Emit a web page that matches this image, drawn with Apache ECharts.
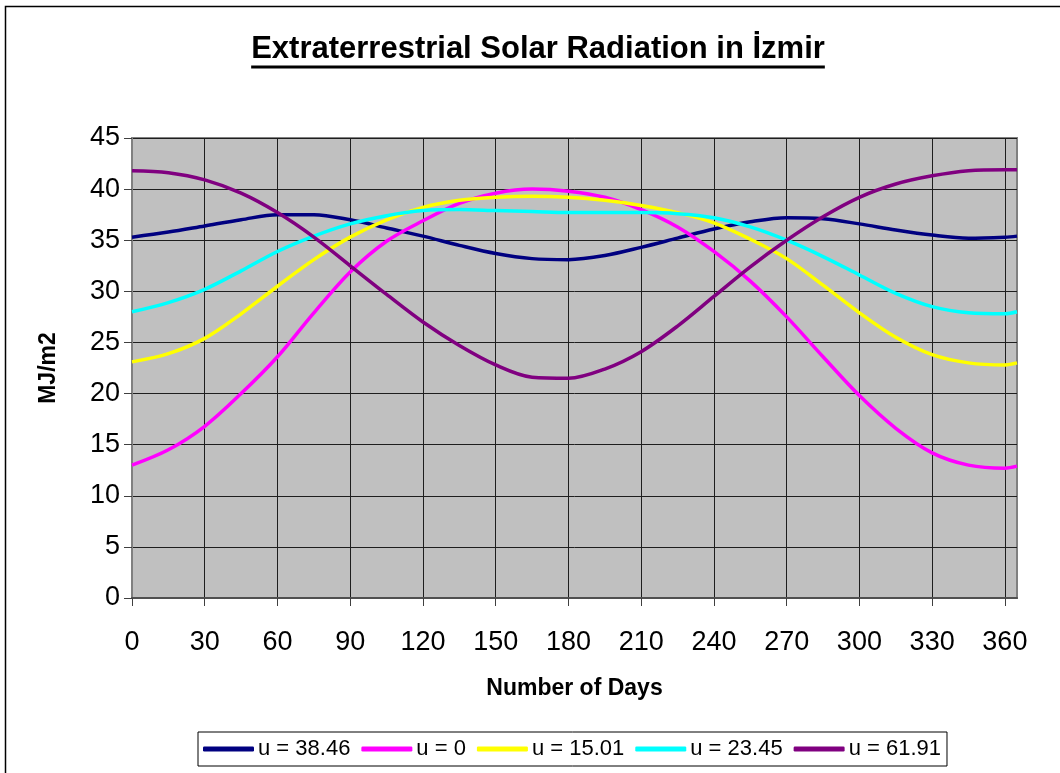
<!DOCTYPE html>
<html>
<head>
<meta charset="utf-8">
<title>Extraterrestrial Solar Radiation in İzmir</title>
<script src="https://cdn.jsdelivr.net/npm/echarts@6/dist/echarts.min.js"></script>
<style>
  html, body { margin: 0; padding: 0; background: #ffffff; }
  #chart { width: 1060px; height: 773px; }
</style>
</head>
<body>
<div id="chart"></div>
<script>
// Day of year for each sample
const days = [0, 15, 30, 45, 60, 75, 90, 105, 120, 135, 150, 165, 180, 195, 210, 225, 240, 255, 270, 285, 300, 315, 330, 345, 360, 365];

// Daily extraterrestrial radiation (MJ/m2) on surfaces with different u
const u3846 = [35.3, 35.8, 36.4, 37.0, 37.5, 37.5, 37.0, 36.2, 35.4, 34.5, 33.7, 33.2, 33.1, 33.5, 34.3, 35.2, 36.1, 36.8, 37.2, 37.1, 36.6, 36.0, 35.5, 35.2, 35.3, 35.4];
const u0    = [13.0, 14.5, 16.8, 20.0, 23.6, 27.9, 31.9, 34.9, 36.9, 38.6, 39.6, 40.0, 39.8, 39.2, 38.0, 36.3, 33.9, 31.0, 27.5, 23.6, 19.8, 16.6, 14.2, 13.0, 12.7, 12.9];
const u1501 = [23.1, 23.9, 25.4, 27.8, 30.5, 33.1, 35.3, 37.0, 38.2, 38.9, 39.2, 39.3, 39.2, 38.9, 38.4, 37.7, 36.7, 35.1, 33.2, 30.6, 27.9, 25.5, 23.8, 23.0, 22.8, 23.0];
const u2345 = [28.0, 28.9, 30.2, 32.0, 33.9, 35.4, 36.6, 37.4, 37.9, 38.0, 37.9, 37.8, 37.7, 37.7, 37.7, 37.6, 37.2, 36.3, 35.0, 33.4, 31.6, 29.8, 28.5, 27.9, 27.8, 28.0];
const u6191 = [41.8, 41.6, 40.9, 39.6, 37.7, 35.3, 32.5, 29.7, 27.0, 24.7, 22.8, 21.6, 21.5, 22.4, 24.1, 26.6, 29.5, 32.4, 35.0, 37.3, 39.2, 40.5, 41.3, 41.8, 41.9, 41.9];

const seriesNames = ['u = 38.46', 'u = 0', 'u = 15.01', 'u = 23.45', 'u = 61.91'];
const seriesValues = [u3846, u0, u1501, u2345, u6191];
const seriesColors = ['#000080', '#FF00FF', '#FFFF00', '#00FFFF', '#800080'];

const xTicks = [0, 30, 60, 90, 120, 150, 180, 210, 240, 270, 300, 330, 360];

const FONT = '"Liberation Sans", Arial, sans-serif';
const titleText = 'Extraterrestrial Solar Radiation in İzmir';
const titleSize = 31;
const titleCenterX = 538;
const titleTop = 34;

// width of the title, for its underline
const ctx = document.createElement('canvas').getContext('2d');
ctx.font = 'bold ' + titleSize + 'px ' + FONT;
const titleWidth = ctx.measureText(titleText).width;

const chart = echarts.init(document.getElementById('chart'), null, { renderer: 'canvas' });

const option = {
  backgroundColor: '#ffffff',
  animation: false,
  title: {
    text: titleText,
    left: titleCenterX,
    top: titleTop,
    textAlign: 'center',
    padding: 0,
    textStyle: { fontFamily: FONT, fontSize: titleSize, fontWeight: 'bold', color: '#000' }
  },
  graphic: [
    {
      type: 'rect',
      shape: { x: 5.5, y: 6.5, width: 1200, height: 900 },
      style: { fill: 'none', stroke: '#000', lineWidth: 1.5 },
      silent: true
    },
    {
      type: 'line',
      shape: {
        x1: titleCenterX - titleWidth / 2, y1: titleTop + titleSize + 2,
        x2: titleCenterX + titleWidth / 2, y2: titleTop + titleSize + 2
      },
      style: { stroke: '#000', lineWidth: 3 },
      silent: true
    }
  ],
  legend: {
    left: 198,
    top: 732,
    padding: [6, 6, 6, 5],
    itemGap: 11,
    itemWidth: 51,
    itemHeight: 5,
    icon: 'roundRect',
    borderColor: '#000',
    borderWidth: 1,
    data: seriesNames,
    textStyle: { fontFamily: FONT, fontSize: 22, color: '#000', padding: [0, 0, 0, -1] }
  },
  grid: {
    left: 132,
    right: 43,
    top: 138,
    bottom: 175,
    show: true,
    backgroundColor: '#C0C0C0',
    borderColor: '#808080',
    borderWidth: 2,
    containLabel: false
  },
  xAxis: {
    type: 'value',
    min: 0,
    max: 365,
    interval: 30,
    name: 'Number of Days',
    nameLocation: 'middle',
    nameGap: 79,
    nameTextStyle: { fontFamily: FONT, fontSize: 23, fontWeight: 'bold', color: '#000' },
    axisLine: { show: true, onZero: false, lineStyle: { color: '#505050', width: 2 } },
    axisTick: { show: true, length: 8, inside: false, customValues: xTicks, lineStyle: { color: '#404040', width: 1 } },
    axisLabel: {
      customValues: xTicks,
      margin: 31,
      fontFamily: FONT, fontSize: 27, color: '#000'
    },
    splitLine: { show: true, lineStyle: { color: '#1e1e1e', width: 1 } }
  },
  yAxis: {
    type: 'value',
    min: 0,
    max: 45,
    interval: 5,
    name: 'MJ/m2',
    nameLocation: 'middle',
    nameRotate: 90,
    nameGap: 72,
    nameTextStyle: { fontFamily: FONT, fontSize: 23, fontWeight: 'bold', color: '#000' },
    axisLine: { show: true, lineStyle: { color: '#808080', width: 2 } },
    axisTick: { show: true, length: 8, inside: false, lineStyle: { color: '#404040', width: 1 } },
    axisLabel: { margin: 12, fontFamily: FONT, fontSize: 27, color: '#000' },
    splitLine: { show: true, lineStyle: { color: '#1e1e1e', width: 1 } }
  },
  series: seriesNames.map((name, i) => ({
    name: name,
    type: 'line',
    data: days.map((d, k) => [d, seriesValues[i][k]]),
    smooth: 0.33,
    showSymbol: false,
    symbol: 'none',
    color: seriesColors[i],
    lineStyle: { color: seriesColors[i], width: 3.5 },
    z: 2 + i
  }))
};

chart.setOption(option);
</script>
</body>
</html>
